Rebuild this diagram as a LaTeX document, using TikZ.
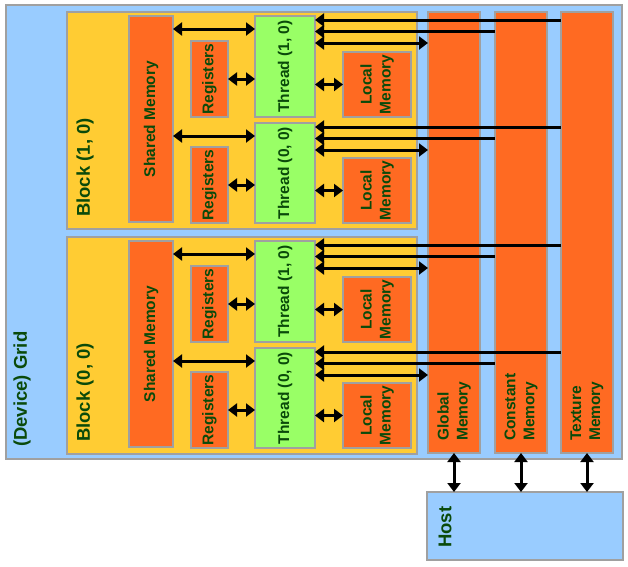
\documentclass[tikz,border=0pt]{standalone}
\usepackage{fontspec}
\setmainfont{Liberation Sans}
\usetikzlibrary{arrows.meta,fit,calc}
\definecolor{gridblue}{HTML}{99CCFF}
\definecolor{blockyel}{HTML}{FFCC33}
\definecolor{memor}{HTML}{FF6A22}
\definecolor{thrgreen}{HTML}{99FF66}
\definecolor{edgegray}{HTML}{A0A0A0}
\definecolor{txtgreen}{HTML}{0A4A0A}
\begin{document}
\begin{tikzpicture}[x=1pt,y=-1pt,
 box/.style={draw=edgegray, line width=1.2pt, inner sep=0pt, outer sep=0pt},
 gridbox/.style={box, fill=gridblue},
 blockbox/.style={box, fill=blockyel},
 membox/.style={box, fill=memor},
 thrbox/.style={box, fill=thrgreen},
 lbl/.style={text=txtgreen, font=\bfseries\fontsize{15.5}{19}\selectfont, rotate=90, inner sep=0pt, align=center},
 biglbl/.style={text=txtgreen, font=\bfseries\fontsize{18.5}{21}\selectfont, rotate=90, inner sep=0pt, anchor=west},
 link/.style={line width=3pt, draw=black},
 >={Triangle[length=9pt,width=13pt]},
]
\useasboundingbox (0,0) rectangle (628,566);
\node[gridbox, fit={(6,5)(622,459)}] (grid) {};
\node[biglbl] at (22,447) {(Device) Grid};
\node[membox, fit={(428,12)(480,453)}] (gm) {};
\node[membox, fit={(495,12)(547,453)}] (cm) {};
\node[membox, fit={(561,12)(613,453)}] (tm) {};
\node[lbl, anchor=west, align=left] at ($(gm.south)+(0,-12)$) {Global\\Memory};
\node[lbl, anchor=west, align=left] at ($(cm.south)+(0,-12)$) {Constant\\Memory};
\node[lbl, anchor=west, align=left] at ($(tm.south)+(0,-12)$) {Texture\\Memory};
\foreach \b/\dy/\name in {1/0/{Block (1, 0)}, 0/225/{Block (0, 0)}} {
 \begin{scope}[shift={(0,\dy)}]
  \node[blockbox, fit={(67,12)(417,229)}] (blk\b) {};
  \node[biglbl] at (85,217) {\name};
  \node[membox, fit={(129,16)(173,222)}] (sm\b) {};
  \node[lbl] at (sm\b) {Shared Memory};
  \node[thrbox, fit={(255,16)(315,117)}] (ta\b) {};
  \node[lbl] at (ta\b) {Thread (1, 0)};
  \node[thrbox, fit={(255,123)(315,223)}] (tb\b) {};
  \node[lbl] at (tb\b) {Thread (0, 0)};
  \node[membox, fit={(191,41)(228,117)}] (ra\b) {};
  \node[lbl] at (ra\b) {Registers};
  \node[membox, fit={(191,147)(228,223)}] (rb\b) {};
  \node[lbl] at (rb\b) {Registers};
  \node[membox, fit={(343,52)(411,117)}] (la\b) {};
  \node[lbl] at (la\b) {Local\\Memory};
  \node[membox, fit={(343,158)(411,223)}] (lb\b) {};
  \node[lbl] at (lb\b) {Local\\Memory};
 \end{scope}
 \foreach \t/\r/\l in {ta/ra/la, tb/rb/lb} {
  \coordinate (s) at ($(\t\b.north west)+(0,13)$);
  \draw[link,<->] (sm\b.east |- s) -- (s);
  \draw[link,<->] (\r\b.east) -- (\r\b.east -| \t\b.west);
  \draw[link,<->] (\l\b.west) -- (\l\b.west -| \t\b.east);
  \coordinate (p1) at ($(\t\b.north east)+(0,4)$);
  \coordinate (p2) at ($(\t\b.north east)+(0,15.5)$);
  \coordinate (p3) at ($(\t\b.north east)+(0,27)$);
  \draw[link,<-] (p1) -- (p1 -| tm.west);
  \draw[link,<-] (p2) -- (p2 -| cm.west);
  \draw[link,<->] (p3) -- (p3 -| gm.west);
 }
}
\node[gridbox, fit={(427,492)(623,560)}] (host) {};
\node[biglbl] at ($(host.south west)+(18,-12)$) {Host};
\foreach \m in {gm,cm,tm} \draw[link,<->] (\m.south) -- (\m.south |- host.north);
\end{tikzpicture}
\end{document}
